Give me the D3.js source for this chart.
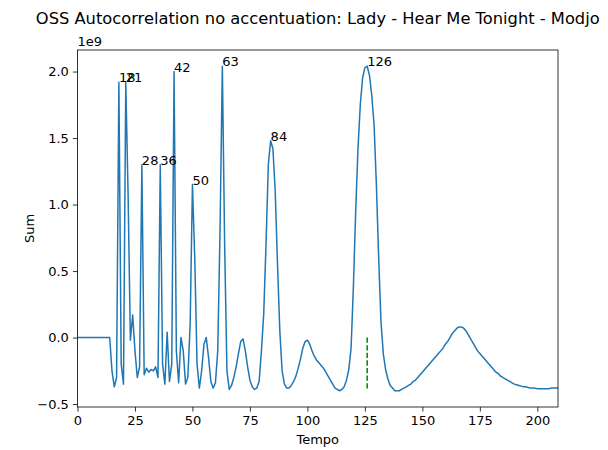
<!DOCTYPE html>
<html>
<head>
<meta charset="utf-8">
<script src="https://cdn.jsdelivr.net/npm/d3@7"></script>
<style>
body { margin: 0; background: #fff; }
text { font-family: "DejaVu Sans", sans-serif; fill: #000; }
</style>
</head>
<body>
<div id="vizcontainer"></div>
<script>
// autocorrelation sum per tempo lag (index = lag), in units of 1e9
var sums = [
 0,0,0,0,0,0,0,0,0,0,0,0,0,0,0,
 -0.25,-0.37,-0.3,1.92,-0.2,-0.35,1.92,1.08,-0.02,0.17,
 -0.1,-0.3,-0.22,1.30,-0.28,-0.23,-0.26,-0.24,-0.25,-0.22,
 -0.3,1.30,-0.2,-0.35,0.04,-0.33,-0.2,2.0,-0.1,-0.34,
 0.0,-0.1,-0.35,-0.3,0.1,1.15,0.6,-0.2,-0.38,-0.25,
 -0.05,0.0,-0.15,-0.33,-0.38,-0.34,-0.1,0.8,2.04,0.7,
 -0.25,-0.39,-0.36,-0.3,-0.22,-0.12,-0.03,-0.01,-0.1,-0.22,
 -0.32,-0.37,-0.39,-0.38,-0.33,-0.1,0.18,0.7,1.3,1.48,
 1.42,1.1,0.55,0.05,-0.25,-0.35,-0.38,-0.38,-0.36,-0.33,
 -0.29,-0.23,-0.16,-0.08,-0.03,-0.02,-0.05,-0.10,-0.14,-0.17,
 -0.19,-0.21,-0.23,-0.26,-0.29,-0.32,-0.35,-0.38,-0.39,-0.40,
 -0.39,-0.37,-0.32,-0.24,-0.08,0.38,0.95,1.42,1.75,1.95,
 2.03,2.04,1.97,1.82,1.6,1.15,0.6,0.12,-0.12,-0.24,
 -0.31,-0.36,-0.38,-0.40,-0.40,-0.40,-0.39,-0.38,-0.37,-0.36,
 -0.35,-0.33,-0.32,-0.30,-0.28,-0.26,-0.24,-0.22,-0.20,-0.18,
 -0.16,-0.14,-0.12,-0.10,-0.08,-0.05,-0.03,0.0,0.03,0.05,
 0.07,0.08,0.08,0.07,0.05,0.02,-0.01,-0.04,-0.07,-0.10,
 -0.12,-0.14,-0.16,-0.18,-0.20,-0.22,-0.24,-0.26,-0.27,-0.29,
 -0.30,-0.31,-0.32,-0.33,-0.34,-0.35,-0.355,-0.36,-0.365,-0.37,
 -0.37,-0.375,-0.38,-0.38,-0.38,-0.385,-0.385,-0.385,-0.385,-0.385,
 -0.385,-0.38,-0.38,-0.38,-0.38
];
var peakLags = [18, 21, 28, 36, 42, 50, 63, 84, 126];
var markedLag = 126;
var markedBottom = -0.39;
var xTicks = [0, 25, 50, 75, 100, 125, 150, 175, 200];
var yTicks = [-0.5, 0.0, 0.5, 1.0, 1.5, 2.0];

var W = 608, H = 450;
var pleft = 77.5, pright = 558, ptop = 50, pbottom = 407;

var svg = d3.select("#vizcontainer").append("svg")
	.attr("width", W).attr("height", H);

var ymin = d3.min(sums), ymax = d3.max(sums);
var pad = (ymax - ymin) * 0.05;

var x = d3.scaleLinear().domain([0, sums.length - 1]).range([pleft, pright]);
var y = d3.scaleLinear().domain([ymin - pad, ymax + pad]).range([pbottom, ptop]);

var fmt = function(d){ return d3.format(".1f")(d).replace("-", "\u2212"); };

// axes
var gx = svg.append("g").attr("transform", "translate(0," + pbottom + ")")
	.call(d3.axisBottom(x).tickValues(xTicks).tickSize(4.6).tickPadding(4).tickFormat(d3.format("d")));
var gy = svg.append("g").attr("transform", "translate(" + pleft + ",0)")
	.call(d3.axisLeft(y).tickValues(yTicks).tickSize(4.6).tickPadding(4).tickFormat(fmt));
[gx, gy].forEach(function(g){
	g.select(".domain").remove();
	g.selectAll("line").attr("stroke", "#000").attr("stroke-width", 0.8);
	g.selectAll("text").style("font-size", "13px").style("font-family", "DejaVu Sans");
});

// data line
var line = d3.line()
	.x(function(d, i){ return x(i); })
	.y(function(d){ return y(d); });

svg.append("defs").append("clipPath").attr("id", "clip")
	.append("rect").attr("x", pleft).attr("y", ptop).attr("width", pright - pleft).attr("height", pbottom - ptop);

svg.append("path")
	.datum(sums)
	.attr("clip-path", "url(#clip)")
	.attr("fill", "none")
	.attr("stroke", "#1f77b4")
	.attr("stroke-width", 1.5)
	.attr("stroke-linejoin", "round")
	.attr("d", line);

// marked tempo
svg.append("line")
	.attr("x1", x(markedLag)).attr("x2", x(markedLag))
	.attr("y1", y(0)).attr("y2", y(markedBottom))
	.attr("stroke", "#008000")
	.attr("stroke-width", 1.5)
	.attr("stroke-dasharray", "5.3,2.3");

// peak labels
svg.append("g").selectAll("text")
	.data(peakLags)
	.enter().append("text")
	.attr("x", function(d){ return x(d); })
	.attr("y", function(d){ return y(sums[d]); })
	.style("font-size", "13px")
	.text(function(d){ return d; });

// frame
svg.append("rect")
	.attr("x", pleft).attr("y", ptop)
	.attr("width", pright - pleft).attr("height", pbottom - ptop)
	.attr("fill", "none").attr("stroke", "#000").attr("stroke-width", 0.8);

// texts
svg.append("text").attr("x", (pleft + pright) / 2).attr("y", 24)
	.attr("text-anchor", "middle").style("font-size", "16.3px")
	.text("OSS Autocorrelation no accentuation: Lady - Hear Me Tonight - Modjo");
svg.append("text").attr("x", pleft).attr("y", 46)
	.style("font-size", "13px").text("1e9");
svg.append("text").attr("x", (pleft + pright) / 2).attr("y", 444)
	.attr("text-anchor", "middle").style("font-size", "13px").text("Tempo");
svg.append("text")
	.attr("transform", "translate(34," + ((ptop + pbottom) / 2) + ") rotate(-90)")
	.attr("text-anchor", "middle").style("font-size", "13px").text("Sum");
</script>
</body>
</html>
